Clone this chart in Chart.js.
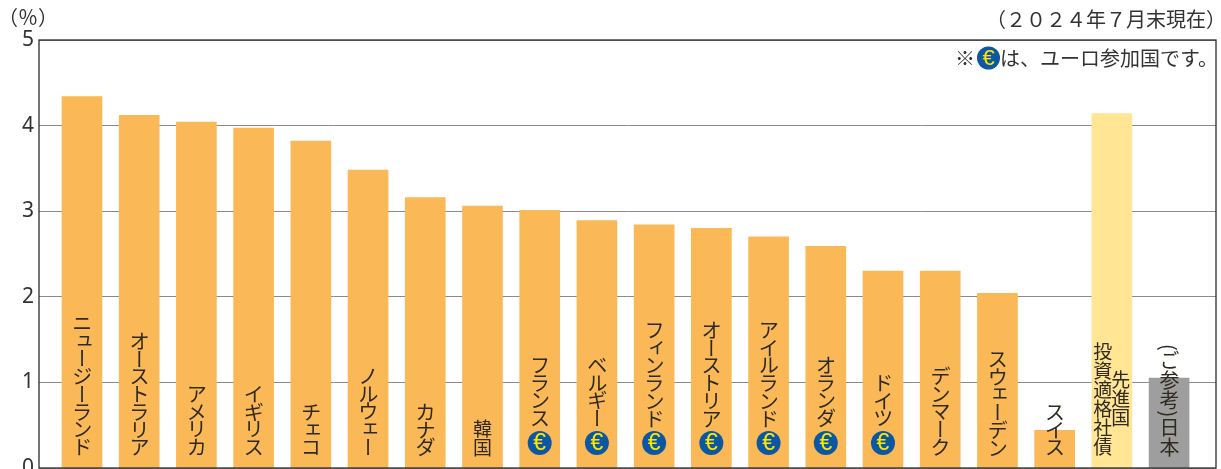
<!DOCTYPE html>
<html lang="ja">
<head>
<meta charset="utf-8">
<title>先進国の国債利回り</title>
<script src="https://cdn.jsdelivr.net/npm/chart.js@4/dist/chart.umd.min.js"></script>
<style>
  html, body { margin: 0; padding: 0; background: #fff; overflow: hidden; }
  #wrap { position: relative; width: 1221px; height: 469px; overflow: hidden; }
  #chart { position: absolute; left: 0; top: 0; }
  .txt { position: absolute; color: #333; font-family: "Noto Sans CJK JP", sans-serif; white-space: nowrap; line-height: 1; }
  .bar-label { writing-mode: vertical-rl; font-size: 19px; color: #2f2a20; transform: translateX(-50%); }
  .kana { font-size: 20.5px; letter-spacing: -2.8px; }
  .wide { font-feature-settings: "fwid"; }
</style>
</head>
<body>
<div id="wrap"><canvas id="chart" width="1221" height="469"></canvas></div>
<script>
// ── Data ──────────────────────────────────────────────────────

const countries = ['ニュージーランド','オーストラリア','アメリカ','イギリス','チェコ','ノルウェー','カナダ','韓国',
  'フランス','ベルギー','フィンランド','オーストリア','アイルランド','オランダ','ドイツ','デンマーク','スウェーデン','スイス',
  '先進国投資適格社債','(ご参考)日本'];
const yields = [4.34,4.12,4.04,3.97,3.82,3.48,3.16,3.06,3.01,2.89,2.84,2.80,2.70,2.59,2.30,2.30,2.04,0.44,4.14,1.05];
const euroMembers = ['フランス','ベルギー','フィンランド','オーストリア','アイルランド','オランダ','ドイツ'];
const yTicks = [0,1,2,3,4,5];

const unitLabel = '(%)';
const asOfLabel = '(2024年7月末現在)';
const noteMark  = '※';
const noteText  = 'は、ユーロ参加国です。';

// ── Helpers ───────────────────────────────────────────────────

function _barColor(i) {
  if (countries[i] === '先進国投資適格社債') return '#FFE594';
  if (countries[i] === '(ご参考)日本') return '#9E9E9E';
  return '#FAB956';
}

function _addText(text, css, cls) {
  const el = document.createElement('div');
  el.className = cls || 'txt';
  el.textContent = text;
  Object.assign(el.style, css);
  document.getElementById('wrap').appendChild(el);
  return el;
}

function _drawEuro(ctx, x, y, r) {
  ctx.save();
  ctx.beginPath();
  ctx.arc(x, y, r, 0, Math.PI * 2);
  ctx.fillStyle = '#0B57A4';
  ctx.fill();
  ctx.fillStyle = '#FFE600';
  ctx.font = `${Math.round(r * 1.9)}px "Liberation Sans", sans-serif`;
  ctx.textAlign = 'center';
  ctx.textBaseline = 'middle';
  ctx.fillText('€', x, y + 1);
  ctx.restore();
}

// ── Plugin: frame, euro marks ─────────────────────────────────

const frameAndEuro = {
  id: 'frameAndEuro',
  afterDatasetsDraw(chart) {
    const { ctx, chartArea: a, scales } = chart;
    ctx.save();
    ctx.strokeStyle = '#2b2b2b';
    ctx.lineWidth = 1.3;
    ctx.strokeRect(a.left, a.top, a.right - a.left, a.bottom - a.top);
    ctx.restore();
    countries.forEach((name, i) => {
      if (euroMembers.includes(name)) _drawEuro(ctx, scales.x.getPixelForValue(i), 443, 12);
    });
    _drawEuro(ctx, 988.5, 58, 11.5);
  }
};

// ── Chart ─────────────────────────────────────────────────────

const chart = new Chart(document.getElementById('chart'), {
  type: 'bar',
  data: {
    datasets: [{
      data: yields.map((v, i) => ({ x: i, y: v })),
      backgroundColor: ctx => _barColor(ctx.dataIndex),
      borderWidth: 0,
      barThickness: 40
    }]
  },
  plugins: [frameAndEuro],
  options: {
    responsive: false,
    animation: false,
    layout: { padding: { left: 0, right: 5, top: 40, bottom: 1 } },
    plugins: { legend: { display: false }, tooltip: { enabled: false } },
    scales: {
      x: { type: 'linear', offset: false, min: -0.751, max: 19.82, display: false },
      y: {
        min: 0, max: 5,
        afterBuildTicks: s => { s.ticks = yTicks.map(v => ({ value: v })); },
        afterFit: s => { s.width = 39; s.paddingTop = 0; s.paddingBottom = 0; },
        ticks: { color: '#333', padding: 5, font: { size: 21, family: '"Noto Sans", sans-serif' } },
        grid: { color: '#8a8a8a', lineWidth: 1, drawTicks: false },
        border: { display: false }
      }
    }
  }
});

// ── Text overlays ─────────────────────────────────────────────

function _renderLabels() {
  const xs = chart.scales.x;
  countries.forEach((name, i) => {
    const cx = xs.getPixelForValue(i);
    const bottom = euroMembers.includes(name) ? 428 : 457;
    if (name === '先進国投資適格社債') {
      _addText('先進国', { left: (cx + 9) + 'px', bottom: (469 - 427) + 'px' }, 'txt bar-label');
      _addText('投資適格社債', { left: (cx - 9) + 'px', bottom: (469 - 456) + 'px' }, 'txt bar-label');
      return;
    }
    const css = { left: cx + 'px', bottom: (469 - bottom) + 'px' };
    // the parentheses of the Japan label are set half width, as in the original
    if (name.startsWith('(')) {
      css.fontFeatureSettings = '"vpal"';
      css.fontSize = '20px';
      _addText(name, css, 'txt bar-label');
      return;
    }
    const isKana = /^[\u30a0-\u30ff]+$/.test(name);
    if (isKana) css.bottom = (469 - bottom + 2) + 'px';
    _addText(name, css, isKana ? 'txt bar-label kana' : 'txt bar-label');
  });

  _addText(unitLabel, { left: '-2px', top: '7px', fontSize: '20px' }, 'txt wide');
  _addText(asOfLabel, { right: '-5px', top: '9px', fontSize: '20px' }, 'txt wide');
  _addText(noteMark, { left: '955px', top: '48px', fontSize: '20px' });
  _addText(noteText, { left: '1000px', top: '48px', fontSize: '20px' });
}

_renderLabels();
</script>
</body>
</html>
